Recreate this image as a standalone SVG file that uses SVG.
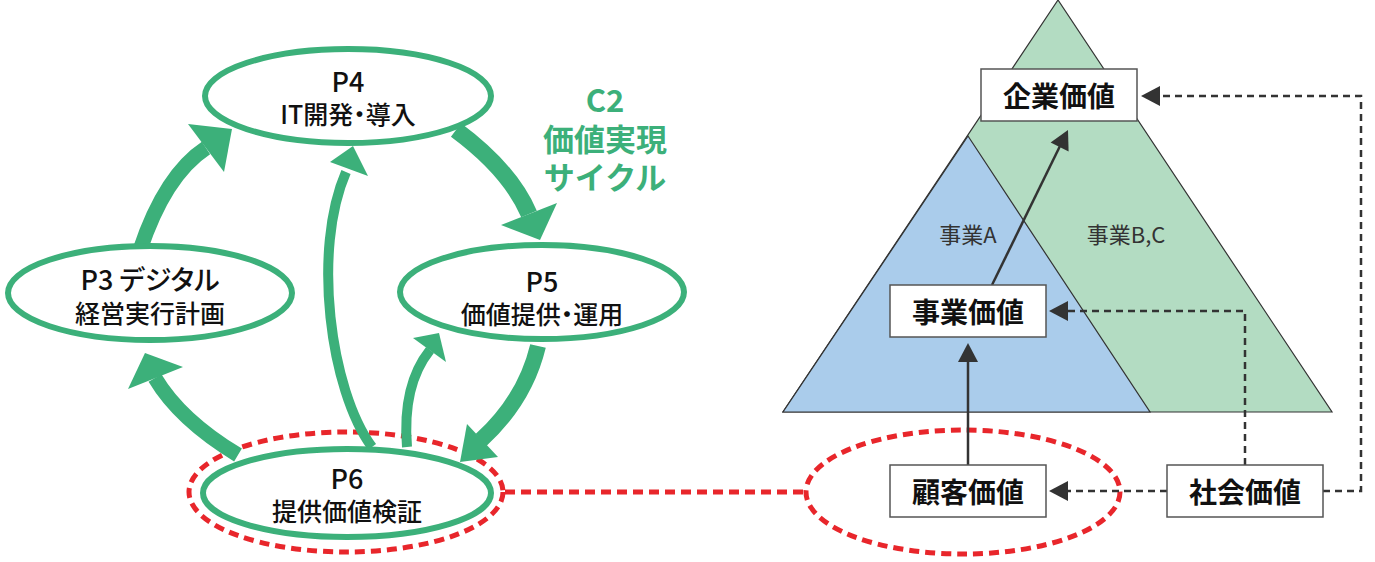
<svg xmlns="http://www.w3.org/2000/svg" width="1375" height="562" viewBox="0 0 1375 562">
<style>
.ell{fill:#fff;stroke:#3CB07A;stroke-width:6}
.red{fill:none;stroke:#E8262B;stroke-width:5;stroke-dasharray:10 6}
.gs{fill:none;stroke:#3CB07A}
.gh{fill:#3CB07A}
.lbl{font-family:"Noto Sans CJK JP","Noto Sans",sans-serif;fill:#111;text-anchor:middle;dominant-baseline:central;font-feature-settings:"palt"}
.p{font-size:27px;font-weight:500}
.s{font-size:25px;font-weight:500}
.c2{font-family:"Noto Sans CJK JP","Noto Sans",sans-serif;fill:#3CB07A;font-weight:700;font-size:31px;text-anchor:middle;dominant-baseline:central}
.box{fill:#fff;stroke:#555;stroke-width:1.5}
.bt{font-family:"Noto Sans CJK JP","Noto Sans",sans-serif;fill:#111;font-weight:700;font-size:28px;text-anchor:middle;dominant-baseline:central}
.tt{font-family:"Noto Sans CJK JP","Noto Sans",sans-serif;fill:#333;font-size:22px;text-anchor:middle;dominant-baseline:central}
.dl{fill:none;stroke:#333;stroke-width:2.5;stroke-dasharray:7 5}
.sl{fill:none;stroke:#333;stroke-width:2.5}
.ah{fill:#333}
</style>
<g id="triangles">
<polygon points="1058,0 783,412 1332,412" fill="#B3DCC2" stroke="#333" stroke-width="1.2"/>
<polygon points="968,136 783,412 1150,412" fill="#AACCEB" stroke="#333" stroke-width="1.2"/>
<text class="tt" x="968" y="233">事業A</text>
<text class="tt" x="1126" y="233">事業B,C</text>
</g>
<g id="highlights">
<ellipse class="red" cx="346" cy="492" rx="157" ry="60"/>
<ellipse class="red" cx="963" cy="492" rx="157" ry="62"/>
<path class="red" d="M505 492H806"/>
</g>
<g id="connectors">
<path class="gs" stroke-width="15" d="M140 250Q165 175 206 148"/>
<polygon class="gh" points="232,129 188,124 224,172"/>
<path class="gs" stroke-width="17" d="M456 130Q510 170 529 214"/>
<polygon class="gh" points="540,240 501,225 557,203"/>
<path class="gs" stroke-width="16" d="M538 346Q525 400 481 440"/>
<polygon class="gh" points="460,462 467,424 498,457"/>
<path class="gs" stroke-width="15" d="M238 455Q180 420 155 378"/>
<polygon class="gh" points="145,353 128,389 183,367"/>
<path class="gs" stroke-width="10" d="M372 447C330 390 312 250 346 172"/>
<polygon class="gh" points="353,146 330,162 368,176"/>
<path class="gs" stroke-width="10" d="M407 447Q402 385 430 350"/>
<polygon class="gh" points="439,333 413,338 446,362"/>
<path class="sl" d="M968 465V360"/>
<polygon class="ah" points="968,343 958,362 978,362"/>
<path class="sl" d="M992 285L1060 146"/>
<polygon class="ah" points="1068,130 1050.6,142.6 1068.6,151.4"/>
<path class="dl" d="M1167 491H1066"/>
<polygon class="ah" points="1049,491 1068,481 1068,501"/>
<path class="dl" d="M1245 465V311H1066"/>
<polygon class="ah" points="1049,311 1068,301 1068,321"/>
<path class="dl" d="M1323 491H1361V96H1158"/>
<polygon class="ah" points="1141,96 1160,86 1160,106"/>
</g>
<g id="p4">
<ellipse class="ell" cx="348" cy="96" rx="143" ry="47"/>
<text class="lbl p" x="348" y="80">P4</text>
<text class="lbl s" x="348" y="113">IT開発・導入</text>
</g>
<g id="p3">
<ellipse class="ell" cx="150" cy="293" rx="142" ry="47"/>
<text class="lbl p" x="150" y="278">P3 デジタル</text>
<text class="lbl s" x="150" y="312">経営実行計画</text>
</g>
<g id="p5">
<ellipse class="ell" cx="542" cy="292" rx="142" ry="47"/>
<text class="lbl p" x="542" y="280">P5</text>
<text class="lbl s" x="542" y="313">価値提供・運用</text>
</g>
<g id="p6">
<ellipse class="ell" cx="347" cy="493" rx="144" ry="44"/>
<text class="lbl p" x="347" y="477">P6</text>
<text class="lbl s" x="347" y="510">提供価値検証</text>
</g>
<g id="c2">
<text class="c2" x="605" y="98">C2</text>
<text class="c2" x="605" y="137">価値実現</text>
<text class="c2" x="605" y="175">サイクル</text>
</g>
<g id="kigyo"><rect class="box" x="981" y="69" width="156" height="52"/><text class="bt" x="1059" y="95">企業価値</text></g>
<g id="jigyo"><rect class="box" x="890" y="285" width="156" height="52"/><text class="bt" x="968" y="311">事業価値</text></g>
<g id="kokyaku"><rect class="box" x="890" y="465" width="156" height="52"/><text class="bt" x="968" y="491">顧客価値</text></g>
<g id="shakai"><rect class="box" x="1167" y="465" width="156" height="52"/><text class="bt" x="1245" y="491">社会価値</text></g>
</svg>
